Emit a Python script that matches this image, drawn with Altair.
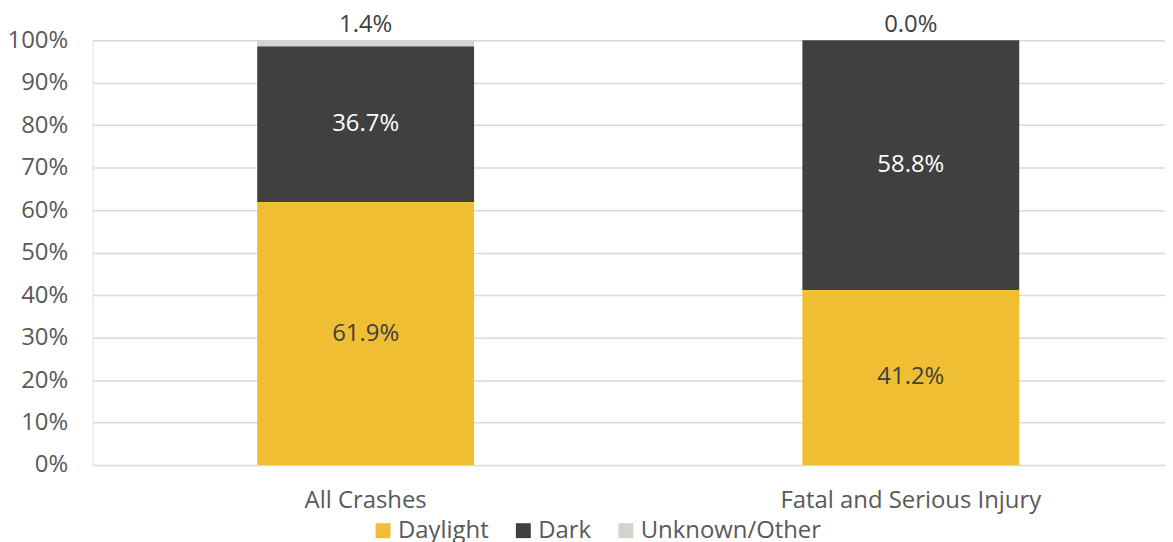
import altair as alt
import pandas as pd

categories = ["All Crashes", "Fatal and Serious Injury"]
series = ["Daylight", "Dark", "Unknown/Other"]
daylight = [61.9, 41.2]
dark = [36.7, 58.8]
unknown = [1.4, 0.0]
colors = ["#F0BE32", "#404040", "#D6D3CE"]

rows = []
for i, c in enumerate(categories):
    for j, (s, v) in enumerate(zip(series, [daylight[i], dark[i], unknown[i]])):
        rows.append({"category": c, "series": s, "value": v, "order": j,
                     "label": f"{v:.1f}%"})
df = pd.DataFrame(rows)

FONT = "Open Sans"
FS = 24

base = alt.Chart(df).transform_stack(
    stack="value", groupby=["category"], as_=["y0", "y1"],
    sort=[alt.SortField("order", order="ascending")]
).transform_calculate(
    mid="(datum.y0 + datum.y1) / 2"
)

xscale = alt.Scale(paddingInner=0, paddingOuter=0, range=[0.5, 1096.5])

x = alt.X("category:N", sort=categories, title=None, scale=xscale,
          axis=alt.Axis(labelAngle=0, labelFontSize=FS, labelColor="#595959",
                        labelFont=FONT, labelPadding=24, ticks=False,
                        labelLimit=1000, domain=False, grid=False))

bars = base.mark_bar(size=218).encode(
    x=x,
    y=alt.Y("y0:Q", scale=alt.Scale(domain=[0, 100]), title=None,
            axis=alt.Axis(values=list(range(0, 101, 10)),
                          labelExpr="datum.value + '%'",
                          labelFontSize=FS, labelColor="#595959", labelFont=FONT,
                          labelPadding=25, ticks=False, domain=False,
                          gridColor="#D9D9D9", gridWidth=1.5)),
    y2="y1:Q",
    color=alt.Color("series:N", sort=series,
                    scale=alt.Scale(domain=series, range=colors),
                    legend=alt.Legend(title=None, orient="none", direction="horizontal",
                                      legendX=280, legendY=481,
                                      symbolType="square", symbolSize=225,
                                      symbolStrokeWidth=0,
                                      labelFontSize=FS, labelColor="#595959",
                                      labelFont=FONT, columnPadding=22,
                                      labelOffset=3, labelLimit=400)),
)

inside = base.transform_filter("datum.series != 'Unknown/Other'").mark_text(
    font=FONT, fontSize=FS, baseline="middle"
).encode(
    x=alt.X("category:N", sort=categories, scale=xscale),
    y=alt.Y("mid:Q"),
    text="label:N",
    color=alt.condition("datum.series == 'Dark'", alt.value("#FFFFFF"),
                        alt.value("#404040")),
)

top = base.transform_filter("datum.series == 'Unknown/Other'").mark_text(
    font=FONT, fontSize=FS, baseline="middle", dy=-15, color="#404040"
).encode(
    x=alt.X("category:N", sort=categories, scale=xscale),
    y=alt.Y("y1:Q"),
    text="label:N",
)

chart = alt.layer(bars, inside, top).properties(
    width=1078, height=427,
    autosize=alt.AutoSizeParams(type="none"),
    padding={"left": 85, "top": 31, "right": 0, "bottom": 76},
).configure_view(stroke=None).configure(background="white")

chart.save("out.html", embed_options={"renderer": "svg", "actions": False})
